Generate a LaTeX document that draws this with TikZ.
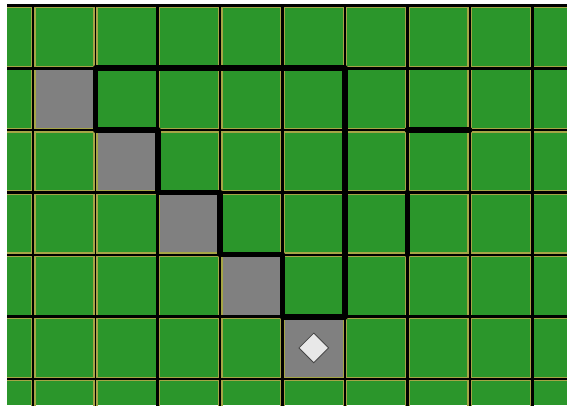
\documentclass[tikz,border=0pt]{standalone}
\usetikzlibrary{shapes.geometric}
\definecolor{cellgreen}{RGB}{43,150,43}
\definecolor{cellgrey}{RGB}{128,128,128}
\definecolor{cellrim}{RGB}{165,165,70}
\definecolor{goalfill}{RGB}{232,232,232}
\definecolor{goaledge}{RGB}{70,70,70}
\tikzset{
  rim/.style={cellrim, line width=4.6pt},
  thinline/.style={black, line width=1.8pt},
  thickline/.style={black, line width=3pt},
  wall/.style={black, line width=5.6pt, line cap=round, line join=round},
  goal/.style={diamond, draw=goaledge, fill=goalfill, line width=0.8pt,
    minimum width=30pt, minimum height=30pt, inner sep=0pt, aspect=1}
}
\newcommand\gx[1]{{33.2+62.35*(#1)}}
\newcommand\gy[1]{{68+62.2*(#1)}}
\begin{document}
\begin{tikzpicture}[x=1pt,y=-1pt]
\useasboundingbox (0,0) rectangle (567,405);
\fill[white] (0,0) rectangle (567,405);
\begin{scope}
  \clip (7,4) rectangle (567,405);
  \fill[cellgreen] (7,4) rectangle (567,405);
  % grey cells
  \foreach \i/\j in {0/0,1/1,2/2,3/3,4/4}
    \fill[cellgrey] (\gx{\i},\gy{\j}) rectangle (\gx{\i+1},\gy{\j+1});
  % rims
  \foreach \i in {-1,...,9}
    \draw[rim] (\gx{\i},0) -- (\gx{\i},410);
  \foreach \j in {-1,...,6}
    \draw[rim] (0,\gy{\j}) -- (570,\gy{\j});
  % grid lines
  \foreach \i in {-1,0,1,3,5,7,9}
    \draw[thinline] (\gx{\i},0) -- (\gx{\i},410);
  \foreach \i in {2,4,6,8}
    \draw[thickline] (\gx{\i},0) -- (\gx{\i},410);
  \foreach \j in {1,3,5}
    \draw[thinline] (0,\gy{\j}) -- (570,\gy{\j});
  \foreach \j in {-1,0,2,4,6}
    \draw[thickline] (0,\gy{\j}) -- (570,\gy{\j});
  % walls
  \coordinate (w1) at (\gx{1},\gy{0});
  \coordinate (w2) at (\gx{5},\gy{0});
  \coordinate (w3) at (\gx{5},\gy{4});
  \coordinate (w4) at (\gx{4},\gy{4});
  \coordinate (w5) at (\gx{4},\gy{3});
  \coordinate (w6) at (\gx{3},\gy{3});
  \coordinate (w7) at (\gx{3},\gy{2});
  \coordinate (w8) at (\gx{2},\gy{2});
  \coordinate (w9) at (\gx{2},\gy{1});
  \coordinate (w10) at (\gx{1},\gy{1});
  \draw[wall] (w1) -- (w2) -- (w3) -- (w4) -- (w5) -- (w6) -- (w7) -- (w8) -- (w9) -- (w10) -- cycle;
  \coordinate (a1) at (\gx{6},\gy{1});
  \coordinate (a2) at (\gx{7},\gy{1});
  \draw[wall] (a1) -- (a2);
  \coordinate (b1) at (\gx{6},\gy{2});
  \coordinate (b2) at (\gx{6},\gy{3});
  \draw[wall] (b1) -- (b2);
  % goal
  \node[goal] (target) at ({\gx{4.5}},{\gy{4.5}}) {};
\end{scope}
\end{tikzpicture}
\end{document}
